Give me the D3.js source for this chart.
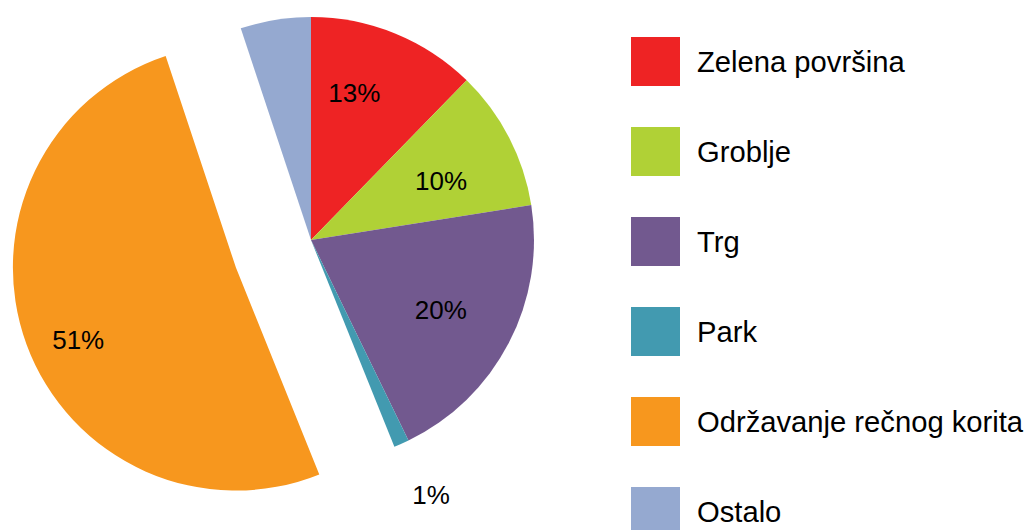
<!DOCTYPE html>
<html>
<head>
<meta charset="utf-8">
<script src="https://cdn.jsdelivr.net/npm/d3@7"></script>
<style>
  body { margin: 0; background: #fff; }
  svg { display: block; font-family: 'Liberation Sans', Arial, sans-serif; }
</style>
</head>
<body>
<svg width="1027" height="530"></svg>
<script>
  const categories = ['Zelena površina', 'Groblje', 'Trg', 'Park', 'Održavanje rečnog korita', 'Ostalo'];
  const shares = [12.3, 10.2, 20.3, 1.1, 51.0, 5.1];
  const percentLabels = ['13%', '10%', '20%', '1%', '51%', ''];
  const colors = ['#ee2324', '#b0d136', '#72598f', '#429ab0', '#f7971e', '#95a9d0'];

  const svg = d3.select('svg');
  const width = +svg.attr('width');
  const height = +svg.attr('height');

  const render = () => {
    const cx = 311, cy = 240, radius = 223;
    // exploded slice and label tweaks (Excel "best fit" labels)
    const explode = [0, 0, 0, 0, 80, 0];
    const labelNudge = [[-14, -6], [-5, 11], [-5, 0], [6, -2], [-15, 20], [0, 0]];
    const outside = [false, false, false, true, false, false];

    const data = categories.map((name, i) => ({ name, value: shares[i], i }));

    const pie = d3.pie().sort(null).value(d => d.value);
    const arc = d3.arc().innerRadius(0).outerRadius(radius);
    const labelArc = d3.arc().innerRadius(152).outerRadius(152);
    const outerLabelArc = d3.arc().innerRadius(281).outerRadius(281);

    const g = svg.append('g')
      .attr('transform', `translate(${cx}, ${cy})`);

    const shift = d => {
      const a = (d.startAngle + d.endAngle) / 2;
      const o = explode[d.data.i];
      return [Math.sin(a) * o, -Math.cos(a) * o];
    };

    const slices = g.selectAll('g.slice').data(pie(data))
      .enter().append('g')
        .attr('class', 'slice')
        .attr('transform', d => `translate(${shift(d)})`);

    slices.append('path')
      .attr('d', arc)
      .attr('fill', d => colors[d.data.i]);

    slices.append('text')
      .attr('transform', d => {
        const c = (outside[d.data.i] ? outerLabelArc : labelArc).centroid(d);
        const n = labelNudge[d.data.i];
        return `translate(${c[0] + n[0]}, ${c[1] + n[1]})`;
      })
      .attr('text-anchor', 'middle')
      .attr('dy', '0.35em')
      .attr('font-size', 26)
      .attr('fill', '#000')
      .text(d => percentLabels[d.data.i]);

    // legend
    const legendY = d3.scalePoint()
      .domain(categories)
      .range([37, 37 + 90 * (categories.length - 1)]);

    const legend = svg.append('g')
      .attr('transform', 'translate(631, 0)');

    const items = legend.selectAll('g').data(categories)
      .enter().append('g')
        .attr('transform', d => `translate(0, ${legendY(d)})`);

    items.append('rect')
      .attr('width', 49)
      .attr('height', 49)
      .attr('fill', (d, i) => colors[i]);

    items.append('text')
      .attr('x', 66)
      .attr('y', 24.5)
      .attr('dy', '0.36em')
      .attr('font-size', 29.2)
      .attr('fill', '#000')
      .text(d => d);
  };

  render();
</script>
</body>
</html>
